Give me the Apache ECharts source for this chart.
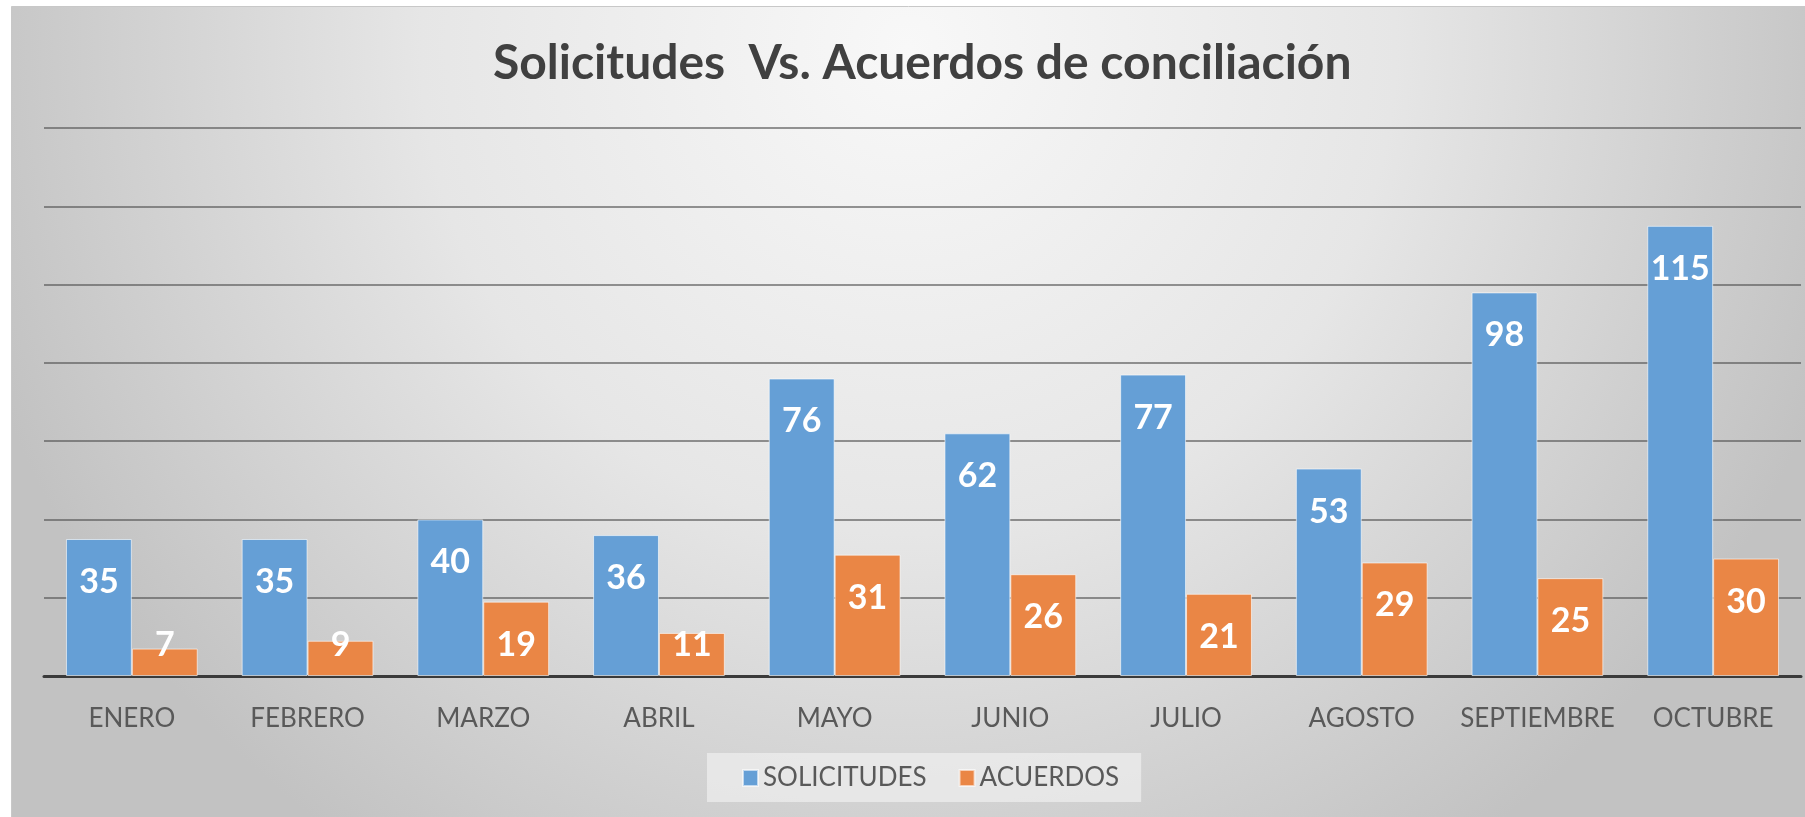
<!DOCTYPE html>
<html>
<head>
<meta charset="utf-8">
<script src="https://cdn.jsdelivr.net/npm/echarts@6/dist/echarts.min.js"></script>
<style>
  html, body { margin: 0; padding: 0; background: #fff; }
  #chart { width: 1805px; height: 817px; }
</style>
</head>
<body>
<div id="chart"></div>
<script>
const months = ['ENERO', 'FEBRERO', 'MARZO', 'ABRIL', 'MAYO', 'JUNIO', 'JULIO', 'AGOSTO', 'SEPTIEMBRE', 'OCTUBRE'];
const solicitudes = [35, 35, 40, 36, 76, 62, 77, 53, 98, 115];
const acuerdos = [7, 9, 19, 11, 31, 26, 21, 29, 25, 30];

const FONT = 'Lato, "Open Sans", sans-serif';

// short bars: Excel pushes the label up off the axis
const withLabels = (vals) => vals.map((v) => v < 19
  ? { value: v, label: { position: 'insideBottom', distance: 14 } }
  : v);

const barLabel = {
  show: true,
  position: 'insideTop',
  distance: 26,
  color: '#fff',
  fontFamily: FONT,
  fontWeight: 'bold',
  fontSize: 34,
};

const chart = echarts.init(document.getElementById('chart'));

chart.setOption({
  animation: false,
  graphic: [{
    type: 'rect',
    left: 11,
    top: 6,
    z: -10,
    shape: { width: 1794, height: 811 },
    style: {
      fill: {
        type: 'radial', x: 0.5, y: 0.05, r: 1.2,
        colorStops: [
          { offset: 0, color: '#f8f8f8' },
          { offset: 0.5, color: '#e6e6e6' },
          { offset: 1, color: '#c2c2c2' },
        ],
      },
      stroke: '#c8c8c8',
      lineWidth: 1,
    },
  }],
  title: {
    text: 'Solicitudes  Vs. Acuerdos de conciliación',
    left: 493,
    top: 40,
    padding: 0,
    textStyle: { fontFamily: FONT, fontWeight: 'bold', fontSize: 48, color: '#404040' },
  },
  legend: {
    data: ['SOLICITUDES', 'ACUERDOS'],
    left: 707,
    top: 753,
    padding: [12, 22, 11, 35],
    backgroundColor: 'rgba(240,240,240,0.7)',
    icon: 'rect',
    itemWidth: 15,
    itemHeight: 16,
    itemGap: 32,
    textStyle: { fontFamily: FONT, fontSize: 26, color: '#595959' },
  },
  grid: { left: 44, right: 4, top: 128, bottom: 141, containLabel: false },
  xAxis: {
    type: 'category',
    data: months,
    axisTick: { show: false },
    axisLine: { lineStyle: { color: '#3a3a3a', width: 3 } },
    axisLabel: { interval: 0, fontFamily: FONT, fontSize: 26, color: '#595959', margin: 30 },
  },
  yAxis: {
    type: 'value',
    min: 0,
    max: 140,
    interval: 20,
    axisLabel: { show: false },
    axisLine: { show: false },
    axisTick: { show: false },
    splitLine: { lineStyle: { color: 'rgba(80,80,80,0.6)', width: 2 } },
  },
  series: [
    {
      name: 'SOLICITUDES',
      type: 'bar',
      data: withLabels(solicitudes),
      barGap: '0%',
      barCategoryGap: '25%',
      itemStyle: { color: '#659fd6', borderColor: 'rgba(255,255,255,0.6)', borderWidth: 1 },
      label: barLabel,
    },
    {
      name: 'ACUERDOS',
      type: 'bar',
      data: withLabels(acuerdos),
      itemStyle: { color: '#ea8645', borderColor: 'rgba(255,255,255,0.6)', borderWidth: 1 },
      label: barLabel,
    },
  ],
});
</script>
</body>
</html>
